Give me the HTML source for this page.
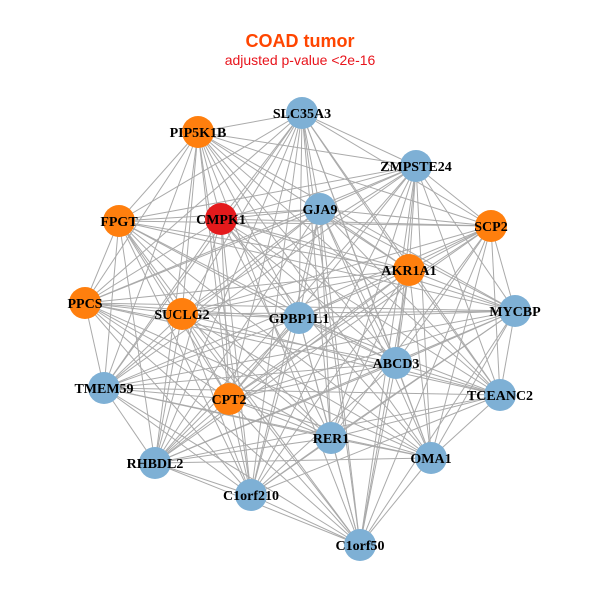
<!DOCTYPE html>
<html><head><meta charset="utf-8"><style>
html,body{margin:0;padding:0;background:#fff;width:600px;height:600px;overflow:hidden}
text{font-family:"Liberation Serif",serif;font-weight:bold;font-size:14px;fill:#000}
</style></head><body>
<svg id="g" width="600" height="600" xmlns="http://www.w3.org/2000/svg">
<text x="300" y="47" text-anchor="middle" style="font-family:'Liberation Sans',sans-serif;font-size:18px;fill:#FF4500">COAD tumor</text>
<text x="300" y="65" text-anchor="middle" style="font-family:'Liberation Sans',sans-serif;font-weight:normal;font-size:14px;fill:#E8141C">adjusted p-value &lt;2e-16</text>
<g id="edges" stroke="#aaaaaa" stroke-width="1"></g>
<g id="nodes"></g>
<g id="labels" text-anchor="middle">
<text x="302" y="118">SLC35A3</text>
<text x="198" y="137">PIP5K1B</text>
<text x="416" y="171">ZMPSTE24</text>
<text x="119" y="226">FPGT</text>
<text x="221" y="224">CMPK1</text>
<text x="320" y="214">GJA9</text>
<text x="491" y="231">SCP2</text>
<text x="409" y="275">AKR1A1</text>
<text x="85" y="308">PPCS</text>
<text x="182" y="319">SUCLG2</text>
<text x="299" y="323">GPBP1L1</text>
<text x="515" y="316">MYCBP</text>
<text x="396" y="368">ABCD3</text>
<text x="104" y="393">TMEM59</text>
<text x="229" y="404">CPT2</text>
<text x="500" y="400">TCEANC2</text>
<text x="331" y="443">RER1</text>
<text x="431" y="463">OMA1</text>
<text x="155" y="468">RHBDL2</text>
<text x="251" y="500">C1orf210</text>
<text x="360" y="550">C1orf50</text>
</g>
</svg>
<script>
var N=[[302,113,'b'],[198,132,'o'],[416,166,'b'],[119,221,'o'],[221,219,'r'],[320,209,'b'],[491,226,'o'],[409,270,'o'],[85,303,'o'],[182,314,'o'],[299,318,'b'],[515,311,'b'],[396,363,'b'],[104,388,'b'],[229,399,'o'],[500,395,'b'],[331,438,'b'],[431,458,'b'],[155,463,'b'],[251,495,'b'],[360,545,'b']];
var C={b:'#7EB0D5',o:'#FF7F0E',r:'#E41A1C'};
var ns='http://www.w3.org/2000/svg',E=document.getElementById('edges'),G=document.getElementById('nodes');
for(var i=0;i<N.length;i++)for(var j=i+1;j<N.length;j++){
 if((i*7+j*3)%11==0)continue;
 var l=document.createElementNS(ns,'line');l.setAttribute('x1',N[i][0]);l.setAttribute('y1',N[i][1]);l.setAttribute('x2',N[j][0]);l.setAttribute('y2',N[j][1]);E.appendChild(l);}
N.forEach(function(n){var c=document.createElementNS(ns,'circle');c.setAttribute('cx',n[0]);c.setAttribute('cy',n[1]);c.setAttribute('r',16);c.setAttribute('fill',C[n[2]]);G.appendChild(c);});
</script>
</body></html>
